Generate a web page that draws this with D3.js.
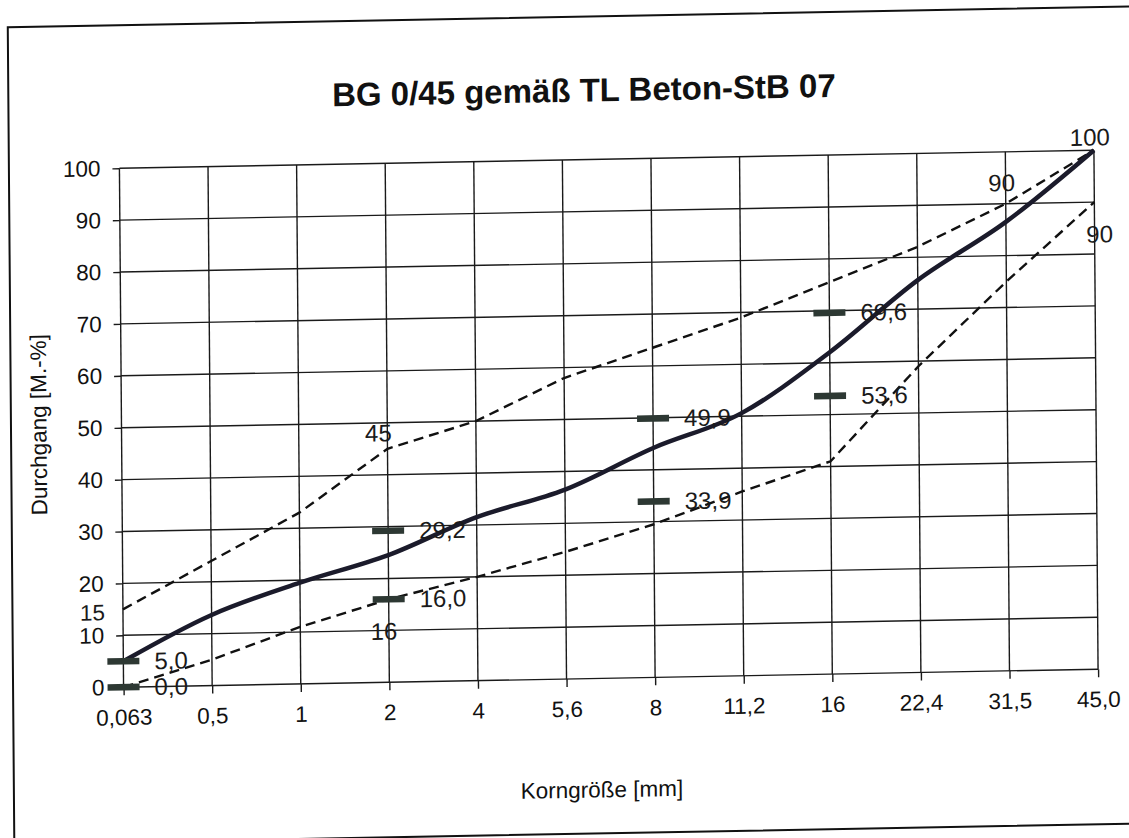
<!DOCTYPE html>
<html>
<head>
<meta charset="utf-8">
<script src="https://cdn.jsdelivr.net/npm/d3@7"></script>
<style>
  html, body { margin: 0; padding: 0; background: #ffffff; }
  svg { display: block; }
</style>
</head>
<body>
<script>
// ---------------- data ----------------
const title = "BG 0/45 gemäß TL Beton-StB 07";
const xTitle = "Korngröße [mm]";
const yTitle = "Durchgang [M.-%]";
const categories = ["0,063", "0,5", "1", "2", "4", "5,6", "8", "11,2", "16", "22,4", "31,5", "45,0"];
const sieveLine  = [5, 13.6, 19.5, 24.5, 31.5, 36.5, 44.2, 50.6, 62, 75.6, 86.5, 100];
const upperLimit = [15, 24, 33, 45, 50, 58, 63.5, 69, 75.5, 82, 90, 100];
const lowerLimit = [0, 5, 11, 16, 20, 24.5, 29.5, 35.5, 41, 59, 75, 90];
const yTicks = [0, 10, 20, 30, 40, 50, 60, 70, 80, 90, 100];
const markerCats   = ["0,063", "0,063", "2", "2", "8", "8", "16", "16"];
const markerValues = [5.0, 0.0, 29.2, 16.0, 49.9, 33.9, 69.6, 53.6];
const markerLabels = ["5,0", "0,0", "29,2", "16,0", "49,9", "33,9", "69,6", "53,6"];
const limitLabelCats   = ["0,063", "2", "2", "31,5", "45,0", "45,0"];
const limitLabelValues = [15, 45, 16, 90, 100, 90];
const limitLabelTexts  = ["15", "45", "16", "90", "100", "90"];

// ---------------- layout / style ----------------
const W = 1129, H = 838;
const plot = { left: 121.5, right: 1096, top: 160, bottom: 679 };
const FONT = "'Liberation Sans', Arial, Helvetica, sans-serif";
// scan skew (page slightly rotated)
const skewB = -0.0185, skewC = 0.008, cx = 565, cy = 420;
// placement of limit labels: [anchor, dx, dy]
const limitLabelPlace = [
  ["end", -18, 3],
  ["middle", -9, -16],
  ["middle", -5, 32],
  ["middle", -4, -21],
  ["middle", -4, -13],
  ["middle", 5, 32]
];

const svg = d3.select("body").append("svg")
  .attr("width", W).attr("height", H)
  .style("background", "#fff");

const g = svg.append("g")
  .attr("transform", `matrix(1 ${skewB} ${skewC} 1 ${-skewC * cy} ${-skewB * cx})`);

// frame
g.append("rect")
  .attr("x", 11).attr("y", 17).attr("width", 1170).attr("height", 817)
  .attr("fill", "none").attr("stroke", "#111").attr("stroke-width", 2);

const x = d3.scalePoint().domain(categories).range([plot.left, plot.right]).padding(0);
const y = d3.scaleLinear().domain([0, 100]).range([plot.bottom, plot.top]);

// title
g.append("text")
  .attr("x", 586.5).attr("y", 102)
  .attr("text-anchor", "middle")
  .attr("font-family", FONT).attr("font-weight", "bold").attr("font-size", 33)
  .attr("fill", "#111")
  .text(title);

// horizontal grid + y axis ticks
const yAxis = d3.axisLeft(y).tickValues(yTicks).tickSize(7).tickPadding(12).tickFormat(d3.format("d"));
const yAxisG = g.append("g").attr("transform", `translate(${plot.left},0)`).call(yAxis);
yAxisG.select(".domain").remove();
yAxisG.selectAll(".tick line").attr("stroke", "#1a1a1a").attr("stroke-width", 1.4);
yAxisG.selectAll(".tick text").attr("font-family", FONT).attr("font-size", 22.5).attr("fill", "#111");

g.append("g").selectAll("line").data(yTicks).join("line")
  .attr("x1", plot.left).attr("x2", plot.right)
  .attr("y1", d => y(d)).attr("y2", d => y(d))
  .attr("stroke", "#1a1a1a").attr("stroke-width", 1.4);

// vertical grid + x axis ticks
const xAxis = d3.axisBottom(x).tickSize(8).tickPadding(14);
const xAxisG = g.append("g").attr("transform", `translate(0,${plot.bottom})`).call(xAxis);
xAxisG.select(".domain").remove();
xAxisG.selectAll(".tick line").attr("stroke", "#1a1a1a").attr("stroke-width", 1.4);
xAxisG.selectAll(".tick text").attr("font-family", FONT).attr("font-size", 22.5).attr("fill", "#111");

g.append("g").selectAll("line").data(categories).join("line")
  .attr("x1", d => x(d)).attr("x2", d => x(d))
  .attr("y1", plot.top).attr("y2", plot.bottom)
  .attr("stroke", "#1a1a1a").attr("stroke-width", 1.4);

// axis titles
g.append("text")
  .attr("transform", "translate(39,415) rotate(-90)")
  .attr("text-anchor", "middle").attr("dominant-baseline", "central")
  .attr("font-family", FONT).attr("font-size", 22.5).attr("fill", "#111")
  .text(yTitle);

g.append("text")
  .attr("x", 599).attr("y", 798)
  .attr("text-anchor", "middle")
  .attr("font-family", FONT).attr("font-size", 22.5).attr("fill", "#111")
  .text(xTitle);

// limit lines (dashed)
const linePath = d3.line().x((d, i) => x(categories[i])).y(d => y(d));
[upperLimit, lowerLimit].forEach(series => {
  g.append("path")
    .attr("d", linePath(series))
    .attr("fill", "none").attr("stroke", "#111")
    .attr("stroke-width", 2.4).attr("stroke-dasharray", "10,6");
});

// sieve line (solid, smoothed)
const smoothPath = d3.line().x((d, i) => x(categories[i])).y(d => y(d)).curve(d3.curveMonotoneX);
g.append("path")
  .attr("d", smoothPath(sieveLine))
  .attr("fill", "none").attr("stroke", "#1b1b2b")
  .attr("stroke-width", 4.5).attr("stroke-linejoin", "round");

// markers
g.append("g").selectAll("rect").data(markerValues).join("rect")
  .attr("x", (d, i) => x(markerCats[i]) - 16)
  .attr("y", d => y(d) - 3.3)
  .attr("width", 32).attr("height", 6.6)
  .attr("fill", "#2d3833");

g.append("g").selectAll("text").data(markerValues).join("text")
  .attr("x", (d, i) => x(markerCats[i]) + 31)
  .attr("y", d => y(d))
  .attr("dominant-baseline", "central")
  .attr("font-family", FONT).attr("font-size", 24).attr("fill", "#1a1a1a")
  .text((d, i) => markerLabels[i]);

// limit labels
g.append("g").selectAll("text").data(limitLabelValues).join("text")
  .attr("x", (d, i) => x(limitLabelCats[i]) + limitLabelPlace[i][1])
  .attr("y", (d, i) => y(d) + limitLabelPlace[i][2])
  .attr("text-anchor", (d, i) => limitLabelPlace[i][0])
  .attr("dominant-baseline", "central")
  .attr("font-family", FONT).attr("font-size", (d, i) => i === 0 ? 22.5 : 24).attr("fill", "#1a1a1a")
  .text((d, i) => limitLabelTexts[i]);
</script>
</body>
</html>
